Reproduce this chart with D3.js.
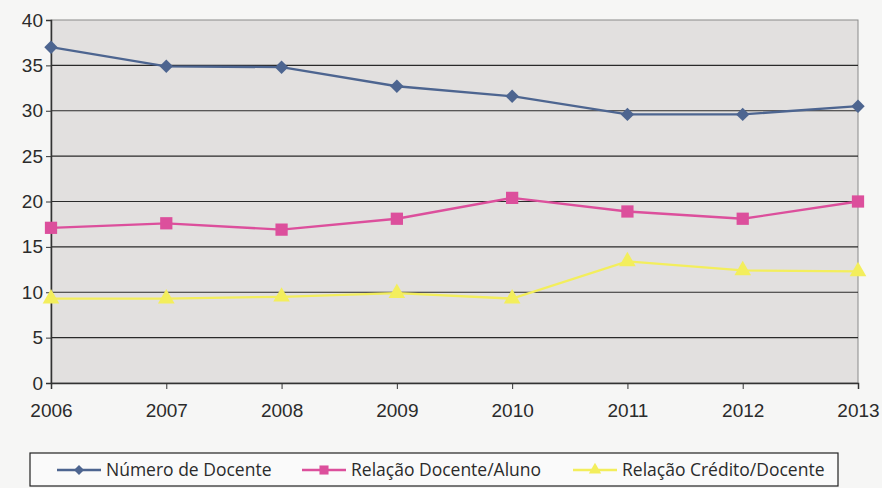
<!DOCTYPE html>
<html>
<head>
<meta charset="utf-8">
<script src="https://cdn.jsdelivr.net/npm/d3@7"></script>
<style>
  body { margin: 0; background: #f6f6f5; }
  svg { display: block; font-family: "Open Sans", "Noto Sans", sans-serif; }
</style>
</head>
<body>
<div id="chart"></div>
<script>
const years = [2006, 2007, 2008, 2009, 2010, 2011, 2012, 2013]
const numeroDocente = [37.0, 34.9, 34.8, 32.7, 31.6, 29.6, 29.6, 30.5]
const docenteAluno  = [17.1, 17.6, 16.9, 18.1, 20.4, 18.9, 18.1, 20.0]
const creditoDocente = [9.3, 9.3, 9.5, 9.9, 9.3, 13.4, 12.4, 12.3]
const yTicks = [0, 5, 10, 15, 20, 25, 30, 35, 40]

const WIDTH = 882, HEIGHT = 488
const MARGIN = { top: 20, right: 24, bottom: 105, left: 51 }
const W = WIDTH - MARGIN.left - MARGIN.right
const H = HEIGHT - MARGIN.top - MARGIN.bottom

const series = [
  { name: 'Número de Docente', values: numeroDocente, color: '#4d6590', marker: 'diamond' },
  { name: 'Relação Docente/Aluno', values: docenteAluno, color: '#dc4f9c', marker: 'square' },
  { name: 'Relação Crédito/Docente', values: creditoDocente, color: '#f3ee5c', marker: 'triangle' },
]

const svg = d3.select('#chart').append('svg').attr('width', WIDTH).attr('height', HEIGHT)
const g = svg.append('g').attr('transform', `translate(${MARGIN.left},${MARGIN.top})`)

const x = d3.scalePoint().domain(years).range([0, W])
const y = d3.scaleLinear().domain([0, 40]).range([H, 0])

// plot area
g.append('rect').attr('width', W).attr('height', H).attr('fill', '#e2e0df')
  .attr('stroke', '#8a8a8a').attr('stroke-width', 1)

// gridlines
g.append('g').selectAll('line').data(yTicks.filter(t => t > 0 && t < 40)).join('line')
  .attr('x1', 0).attr('x2', W)
  .attr('y1', d => y(d)).attr('y2', d => y(d))
  .attr('stroke', '#2a2a2a').attr('stroke-width', 1.2)

// axes
const yAxis = g.append('g').call(d3.axisLeft(y).tickValues(yTicks).tickSize(5).tickPadding(3))
yAxis.select('.domain').attr('stroke', '#333').attr('stroke-width', 1.5)
yAxis.selectAll('.tick line').attr('stroke', '#333')
yAxis.selectAll('text').style('font-size', '19px').attr('fill', '#2b2b2b')

const xAxis = g.append('g').attr('transform', `translate(0,${H})`)
  .call(d3.axisBottom(x).tickSize(6).tickPadding(15).tickFormat(d3.format('d')))
xAxis.select('.domain').attr('stroke', '#333').attr('stroke-width', 1.5)
xAxis.selectAll('.tick line').attr('stroke', '#333')
xAxis.selectAll('text').style('font-size', '19px').attr('fill', '#2b2b2b')

// diamond drawn as a square turned 45 degrees, like the Excel marker
const symbolFor = m => m === 'triangle' ? d3.symbolTriangle : d3.symbolSquare
const sizeFor = m => m === 'diamond' ? 90 : m === 'square' ? 150 : 120
const rotFor = m => m === 'diamond' ? 45 : 0

const line = d3.line().x((d, i) => x(years[i])).y(d => y(d))

series.forEach(s => {
  g.append('path').datum(s.values)
    .attr('d', line).attr('fill', 'none')
    .attr('stroke', s.color).attr('stroke-width', 2.3)
  g.append('g').selectAll('path').data(s.values).join('path')
    .attr('transform', (d, i) => `translate(${x(years[i])},${y(d)}) rotate(${rotFor(s.marker)})`)
    .attr('d', d3.symbol().type(symbolFor(s.marker)).size(sizeFor(s.marker)))
    .attr('fill', s.color)
})

// legend
const legend = svg.append('g').attr('transform', 'translate(30,453)')
legend.append('rect').attr('width', 808).attr('height', 33)
  .attr('fill', '#fafafa').attr('stroke', '#222').attr('stroke-width', 1.2)
const legendX = [27, 272, 543]
series.forEach((s, i) => {
  const item = legend.append('g').attr('transform', `translate(${legendX[i]},17)`)
  item.append('line').attr('x1', 0).attr('x2', 44).attr('stroke', s.color).attr('stroke-width', 2.3)
  item.append('path').attr('transform', `translate(22,0) rotate(${rotFor(s.marker)})`)
    .attr('d', d3.symbol().type(symbolFor(s.marker)).size(sizeFor(s.marker) * 0.55))
    .attr('fill', s.color)
  item.append('text').attr('x', 49).attr('dy', '0.35em')
    .style('font-size', '17.5px').attr('fill', '#2b2b2b').text(s.name)
})
</script>
</body>
</html>
